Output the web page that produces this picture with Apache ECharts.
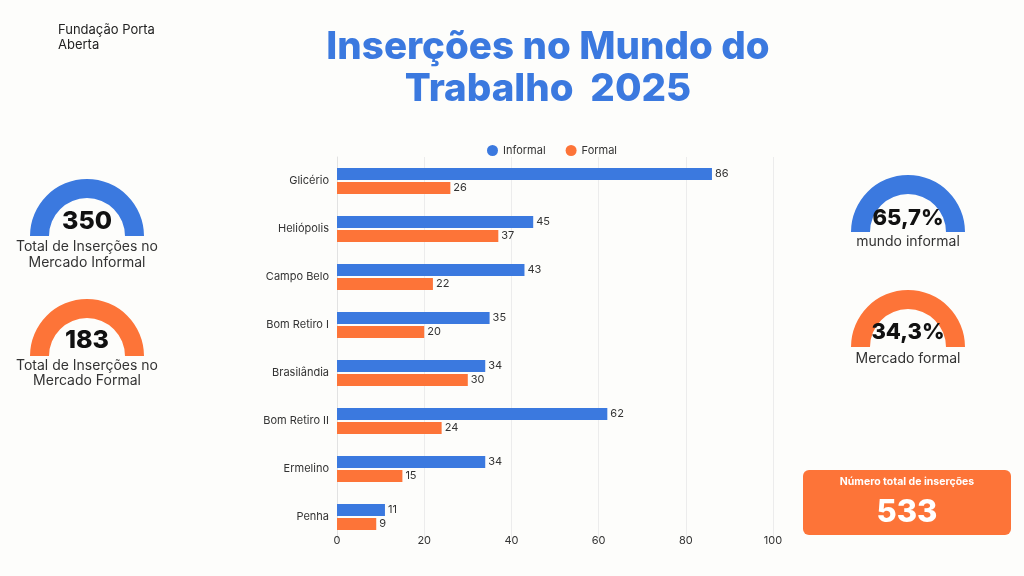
<!DOCTYPE html>
<html><head><meta charset="utf-8">
<script src="https://cdn.jsdelivr.net/npm/echarts@6/dist/echarts.min.js"></script>
<style>html,body{margin:0;padding:0;background:#fdfdfb;}#c{width:1024px;height:576px;}</style>
</head><body><div id="c"></div>
<script>
const categories = ['Glicério','Heliópolis','Campo Belo','Bom Retiro I','Brasilândia','Bom Retiro II','Ermelino','Penha'];
const informal = [86,45,43,35,34,62,34,11];
const formal = [26,37,22,20,30,24,15,9];
const xTicks = [0,20,40,60,80,100];

const BLUE = '#3b79df';
const ORANGE = '#fd7438';
const FONT = 'Inter, "Noto Sans", sans-serif';

const totalInf = informal.reduce((a,b)=>a+b,0);
const totalFor = formal.reduce((a,b)=>a+b,0);
const total = totalInf + totalFor;
const pct = v => (v/total*100).toFixed(1).replace('.',',') + '%';

function arc(cx, cy, color) {
  return { type:'sector', silent:true, shape:{cx:cx, cy:cy, r:57, r0:38, startAngle:Math.PI, endAngle:2*Math.PI}, style:{fill:color} };
}
function txt(x, y, text, size, weight, color, align) {
  return { type:'text', silent:true, x:x, y:y, style:{text:text, fontSize:size, fontWeight:weight, fill:color, fontFamily:FONT, align:align||'center', verticalAlign:'middle'} };
}

const chart = echarts.init(document.getElementById('c'));
chart.setOption({
  backgroundColor:'#fdfdfb',
  textStyle:{fontFamily:FONT},
  legend:{ data:['Informal','Formal'], left:482, top:140, icon:'circle', itemWidth:11, itemHeight:11, itemGap:20,
    textStyle:{fontSize:11, color:'#333', fontFamily:FONT} },
  grid:{ left:337, right:251, top:157, bottom:35, containLabel:false },
  xAxis:{ type:'value', min:0, max:100, interval:20, offset:-14,
    axisLine:{show:false}, axisTick:{show:false},
    axisLabel:{fontSize:11, color:'#333', formatter:v=>xTicks.includes(v)?String(v):''},
    splitLine:{lineStyle:{color:'#ececec'}} },
  yAxis:{ type:'category', data:categories, inverse:true,
    axisLine:{show:true, lineStyle:{color:'#e2e2e2'}}, axisTick:{show:false},
    axisLabel:{fontSize:11, color:'#333', margin:8} },
  series:[
    { name:'Informal', type:'bar', data:informal, barWidth:12, barGap:'17%', itemStyle:{color:BLUE},
      label:{show:true, position:'right', distance:3, fontSize:11, color:'#333'} },
    { name:'Formal', type:'bar', data:formal, barWidth:12, barGap:'17%', itemStyle:{color:ORANGE},
      label:{show:true, position:'right', distance:3, fontSize:11, color:'#333'} }
  ],
  graphic:[
    txt(58, 30, 'Fundação Porta', 13, 'normal', '#222', 'left'),
    txt(58, 45, 'Aberta', 13, 'normal', '#222', 'left'),
    txt(548, 47, 'Inserções no Mundo do', 38.5, 800, BLUE),
    txt(548, 89, 'Trabalho  2025', 38.5, 800, BLUE),
    arc(87, 236, BLUE),
    txt(87, 221, String(totalInf), 25, 800, '#111'),
    txt(87, 247, 'Total de Inserções no', 14, 'normal', '#333'),
    txt(87, 263, 'Mercado Informal', 14, 'normal', '#333'),
    arc(87, 356, ORANGE),
    txt(87, 340, String(totalFor), 25, 800, '#111'),
    txt(87, 366, 'Total de Inserções no', 14, 'normal', '#333'),
    txt(87, 381, 'Mercado Formal', 14, 'normal', '#333'),
    arc(908, 232, BLUE),
    txt(908, 218, pct(totalInf), 22, 800, '#111'),
    txt(908, 242, 'mundo informal', 14, 'normal', '#333'),
    arc(908, 347, ORANGE),
    txt(908, 332, pct(totalFor), 22, 800, '#111'),
    txt(908, 359, 'Mercado formal', 14, 'normal', '#333'),
    { type:'rect', silent:true, shape:{x:803, y:470, width:208, height:65, r:6}, style:{fill:ORANGE} },
    txt(907, 482, 'Número total de inserções', 10.5, 700, '#fff'),
    txt(907, 513, String(total), 31, 800, '#fff')
  ]
});
</script></body></html>
